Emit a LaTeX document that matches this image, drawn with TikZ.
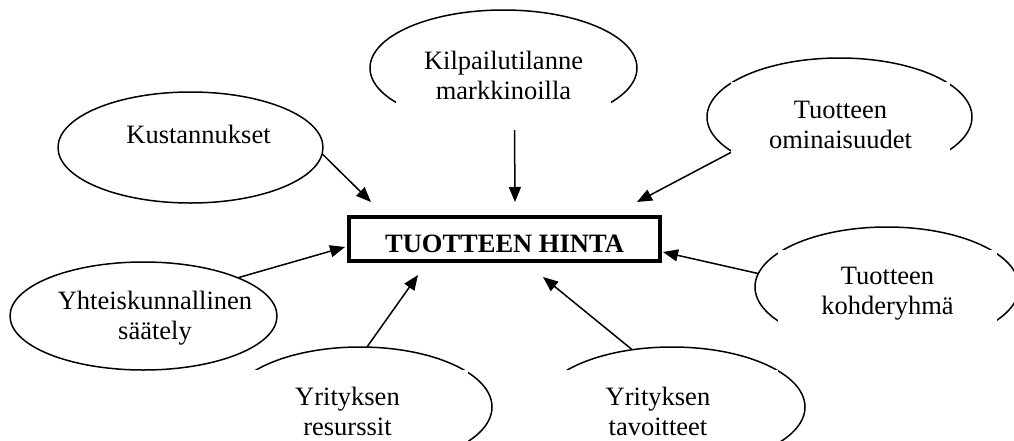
\documentclass[tikz,border=0pt]{standalone}
\usepackage{fontspec}
\setmainfont{Liberation Serif}
\usetikzlibrary{shapes.geometric, arrows.meta}

\newcommand{\labelfont}{\fontsize{13.25pt}{15.25pt}\selectfont}
% \coverlabel{宽}{高}{首行基线}{文字}
\newcommand{\coverlabel}[4]{\parbox[c][#2][t]{#1}{\centering\rule{0pt}{#3}#4}}

\begin{document}
\begin{tikzpicture}[x=0.5pt, y=-0.5pt, line cap=round, line join=round,
  oval/.style={draw, ellipse, inner sep=0pt, line width=0.75pt},
  cover/.style={fill=white, inner sep=0pt, font=\labelfont},
  txt/.style={inner sep=0pt, font=\labelfont},
  hintabox/.style={draw, line width=2pt, line cap=butt, line join=miter, inner sep=0pt,
    minimum width=155.5pt, minimum height=22pt, text height=13pt, text depth=0pt,
    font=\labelfont\bfseries},
  arr/.style={-{Triangle[length=7.5pt,width=6pt]}, line width=0.75pt}]

\useasboundingbox (0,0) rectangle (1014,440);

% 椭圆
\node[oval, minimum width=132.5pt, minimum height=55.5pt] (kust) at (190.5,147.5) {};
\node[oval, minimum width=133.5pt, minimum height=58pt] (kilp) at (503.5,68) {};
\node[oval, minimum width=132.5pt, minimum height=59pt] (omin) at (839.5,117) {};
\node[oval, minimum width=133.5pt, minimum height=54pt] (yhteis) at (143.5,316) {};
\node[oval, minimum width=132pt, minimum height=60pt] (kohde) at (887,287) {};
\node[oval, minimum width=132pt, minimum height=60pt] (res) at (360,407) {};
\node[oval, minimum width=133pt, minimum height=60pt] (tav) at (672,407) {};

% 中间的方框
\node[hintabox] (hinta) at (504.5,239) {TUOTTEEN HINTA};

% 箭头
\draw[arr] (kust.-3) -- ([shift={(24,-13)}]hinta.north west);
\draw[arr] ([shift={(11,0)}]kilp.south) -- ([shift={(10.5,-13)}]hinta.north);
\draw[arr] (omin.-162) -- ([shift={(-25,-13)}]hinta.north east);
\draw[arr] (yhteis.22) -- ([shift={(-2,8)}]hinta.west);
\draw[arr] (res.83) -- ([shift={(71,12)}]hinta.south west);
\draw[arr] (tav.125) -- ([shift={(38.5,14)}]hinta.south);
\draw[arr] (kohde.174) -- ([shift={(1,13)}]hinta.east);

% 文本框(白底,盖住椭圆的一部分)
\node[txt] (kusttext) at (198.5,129) {\coverlabel{100pt}{20pt}{17pt}{Kustannukset}};
\node[txt] (yhteistext) at (155,315) {\coverlabel{110pt}{40pt}{17pt}{Yhteiskunnallinen\\säätely}};
\node[cover] (kilptext) at (503.5,83) {\coverlabel{107.5pt}{47pt}{16.5pt}{Kilpailutilanne\\markkinoilla}};
\node[cover] (omintext) at (840.5,131) {\coverlabel{109.5pt}{49pt}{18pt}{Tuotteen\\ominaisuudet}};
\node[cover] (kohdetext) at (887.5,300) {\coverlabel{109.5pt}{50pt}{17pt}{Tuotteen\\kohderyhmä}};
\node[cover] (restext) at (347.5,420) {\coverlabel{120.5pt}{50pt}{17.5pt}{Yrityksen\\resurssit}};
\node[cover] (tavtext) at (658,420) {\coverlabel{120pt}{50pt}{17.5pt}{Yrityksen\\tavoitteet}};

\end{tikzpicture}
\end{document}
